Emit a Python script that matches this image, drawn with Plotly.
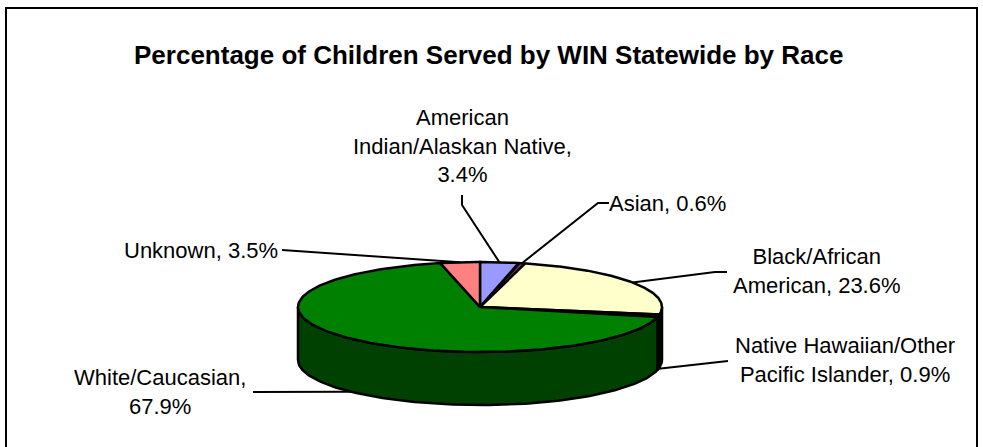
import numpy as np
import plotly.graph_objects as go

# Share of children served, by race (percent)
categories = [
    "American Indian/Alaskan Native",
    "Asian",
    "Black/African American",
    "Native Hawaiian/Other Pacific Islander",
    "White/Caucasian",
    "Unknown",
]
values = [3.4, 0.6, 23.6, 0.9, 67.9, 3.5]
label_texts = [
    "American<br>Indian/Alaskan Native,<br>3.4%",
    "Asian, 0.6%",
    "Black/African<br>American, 23.6%",
    "Native Hawaiian/Other<br>Pacific Islander, 0.9%",
    "White/Caucasian,<br>67.9%",
    "Unknown, 3.5%",
]
title_text = "Percentage of Children Served by WIN Statewide by Race"

# Slice fills (top face) and their shaded side walls
top_colors = ["#9999FF", "#993366", "#FFFFCC", "#CCFFFF", "#008000", "#FF8080"]
side_colors = ["#4C4C80", "#4D1933", "#808066", "#668080", "#004000", "#804040"]

# Page / pie geometry in pixels
W, H = 983, 447
CX, CY = 480, 307
RX, RY = 182, 45
DEPTH = 53
FONT = "Liberation Sans, Arial, sans-serif"

# Label placement: (x, y, xanchor) and leader-line elbow points
label_pos = [
    (462, 146, "center"),
    (607, 203, "left"),
    (817, 271, "center"),
    (845, 360, "center"),
    (160, 392, "center"),
    (280, 250, "right"),
]
leader_start = [
    [(462, 195), (462, 205)],
    [(609, 203), (598, 203)],
    [(727, 272), (715, 272)],
    [(728, 361)],
    [(253, 392)],
    [(282, 250)],
]

total = float(sum(values))
bounds = np.concatenate([[0.0], np.cumsum(values)]) / total


def rim(f, drop=0.0):
    """Point on the pie's rim at fraction f, clockwise from 12 o'clock."""
    t = 2 * np.pi * np.asarray(f, dtype=float)
    return CX + RX * np.sin(t), CY - RY * np.cos(t) + drop


fig = go.Figure()

# Side walls: only the front half of the cylinder is visible
for i in range(len(values)):
    lo = max(bounds[i], 0.25)
    hi = min(bounds[i + 1], 0.75)
    if hi <= lo:
        continue
    fs = np.linspace(lo, hi, 120)
    xt, yt = rim(fs)
    xb, yb = rim(fs[::-1], DEPTH)
    fig.add_trace(go.Scatter(
        x=np.concatenate([xt, xb, xt[:1]]),
        y=np.concatenate([yt, yb, yt[:1]]),
        mode="lines", fill="toself", fillcolor=side_colors[i],
        line=dict(color="black", width=2.5), hoverinfo="skip",
        showlegend=False,
    ))

# Top faces: one wedge per category
for i, name in enumerate(categories):
    fs = np.linspace(bounds[i], bounds[i + 1], 200)
    xt, yt = rim(fs)
    fig.add_trace(go.Scatter(
        x=np.concatenate([[CX], xt, [CX]]),
        y=np.concatenate([[CY], yt, [CY]]),
        mode="lines", fill="toself", fillcolor=top_colors[i],
        line=dict(color="black", width=2.5), name=name,
        hoverinfo="name", showlegend=False,
    ))

# Leader lines from each label to its slice
for i in range(len(values)):
    mid = (bounds[i] + bounds[i + 1]) / 2
    px, py = rim(mid)
    if np.cos(2 * np.pi * mid) < 0:
        py = py + DEPTH
    pts = leader_start[i] + [(float(px), float(py))]
    fig.add_trace(go.Scatter(
        x=[p[0] for p in pts], y=[p[1] for p in pts], mode="lines",
        line=dict(color="black", width=2), hoverinfo="skip",
        showlegend=False,
    ))

annotations = [
    dict(x=488, y=55, xref="x", yref="y", text="<b>" + title_text + "</b>",
         showarrow=False, font=dict(family=FONT, size=26, color="black"),
         xanchor="center", yanchor="middle")
]
for (lx, ly, anchor), txt in zip(label_pos, label_texts):
    annotations.append(dict(
        x=lx, y=ly, xref="x", yref="y", text=txt, showarrow=False,
        font=dict(family=FONT, size=22, color="black"),
        xanchor=anchor, yanchor="middle", align="center",
    ))

fig.update_layout(
    width=W, height=H,
    margin=dict(l=0, r=0, t=0, b=0),
    paper_bgcolor="white", plot_bgcolor="white",
    xaxis=dict(range=[0, W], visible=False, fixedrange=True),
    yaxis=dict(range=[H, 0], visible=False, fixedrange=True),
    annotations=annotations,
    shapes=[dict(type="rect", xref="x", yref="y", x0=6, y0=8, x1=977, y1=470,
                 line=dict(color="black", width=2), layer="below")],
)

fig.write_html("out.html", config={"displayModeBar": False})
